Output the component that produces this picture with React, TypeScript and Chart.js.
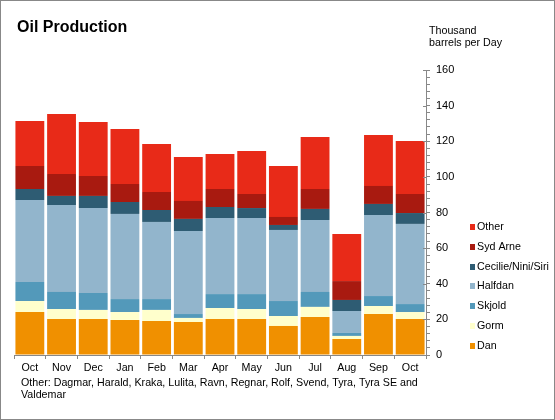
import React, { useEffect, useRef } from "react";
import { Chart, registerables } from "chart.js";

Chart.register(...registerables);

const months = ["Oct", "Nov", "Dec", "Jan", "Feb", "Mar", "Apr", "May", "Jun", "Jul", "Aug", "Sep", "Oct"];

const dan = [24.1, 20.2, 20.2, 19.7, 19.1, 18.5, 20.2, 20.2, 16.3, 21.3, 9.0, 23.0, 20.2];
const gorm = [6.2, 5.6, 5.1, 4.4, 6.2, 2.3, 6.2, 5.6, 5.6, 5.7, 1.7, 4.5, 3.9];
const skjold = [10.7, 9.6, 9.5, 7.3, 6.1, 2.2, 7.8, 8.4, 8.4, 8.4, 1.7, 5.6, 4.5];
const halfdan = [46.0, 48.8, 47.7, 47.8, 43.3, 46.6, 42.7, 42.7, 39.9, 40.4, 12.3, 45.5, 45.0];
const cecilie = [6.2, 5.1, 6.8, 6.7, 6.7, 6.8, 6.2, 5.6, 2.8, 6.2, 6.2, 6.2, 6.1];
const sydArne = [12.9, 12.3, 11.2, 10.1, 10.1, 10.1, 10.1, 7.9, 4.5, 11.2, 10.6, 10.1, 10.7];
const other = [25.3, 33.7, 30.3, 30.9, 27.0, 24.7, 19.7, 24.1, 28.6, 29.2, 26.4, 28.6, 29.8];

const seriesNames = ["Dan", "Gorm", "Skjold", "Halfdan", "Cecilie/Nini/Siri", "Syd Arne", "Other"];
const seriesValues = [dan, gorm, skjold, halfdan, cecilie, sydArne, other];
const seriesColors = ["#F09000", "#FFFFCC", "#5399BA", "#92B5CC", "#2E5C73", "#A81A10", "#E82A18"];

const yTicksMajor = [0, 20, 40, 60, 80, 100, 120, 140, 160];

const titleText = "Oil Production";
const unitLines = ["Thousand", "barrels per Day"];
const footLines = [
  "Other: Dagmar, Harald, Kraka, Lulita, Ravn, Regnar, Rolf, Svend, Tyra, Tyra SE and",
  "Valdemar",
];

const FONT = '"Liberation Sans", Arial, sans-serif';
const GRAY = "#888888";
const FS = 10.7;

const decorPlugin = {
  id: "decor",
  afterDraw(chart: any) {
    const ctx = chart.ctx;
    const y = chart.scales.y;
    const area = chart.chartArea;
    ctx.save();
    // major inner tick marks
    ctx.strokeStyle = GRAY;
    ctx.lineWidth = 1;
    ctx.beginPath();
    yTicksMajor.forEach((v) => {
      const py = Math.round(y.getPixelForValue(v)) + 0.5;
      ctx.moveTo(area.right - 3, py);
      ctx.lineTo(area.right, py);
    });
    ctx.stroke();

    // title
    ctx.fillStyle = "#000";
    ctx.textBaseline = "middle";
    ctx.textAlign = "left";
    ctx.font = `bold 16px ${FONT}`;
    ctx.fillText(titleText, 17, 28);

    // unit
    ctx.font = `${FS}px ${FONT}`;
    unitLines.forEach((t, i) => ctx.fillText(t, 429, 31 + i * 12));

    // footnote
    footLines.forEach((t, i) => ctx.fillText(t, 21, 383 + i * 12));

    // legend (reversed)
    const n = chart.data.datasets.length;
    for (let i = 0; i < n; i++) {
      const ds = chart.data.datasets[n - 1 - i];
      const cy = 227 + i * 19.8;
      ctx.fillStyle = ds.backgroundColor;
      ctx.fillRect(470, Math.round(cy) - 3, 5, 6);
      ctx.fillStyle = "#000";
      ctx.fillText(ds.label, 477, cy);
    }

    // outer border
    ctx.strokeStyle = GRAY;
    ctx.strokeRect(0.5, 0.5, 554, 419);
    ctx.restore();
  },
};

export default function App() {
  const ref = useRef<HTMLCanvasElement | null>(null);
  useEffect(() => {
    if (!ref.current) return;
    const chart = new Chart(ref.current, {
      type: "bar",
      data: {
        labels: months,
        datasets: seriesNames.map((name, i) => ({
          label: name,
          data: seriesValues[i],
          backgroundColor: seriesColors[i],
          borderWidth: 0,
          barPercentage: 0.91,
          categoryPercentage: 1,
        })),
      },
      options: {
        responsive: false,
        animation: false,
        devicePixelRatio: 1,
        layout: { padding: { left: 14, top: 70, right: 0, bottom: 0 } },
        plugins: { legend: { display: false }, tooltip: { enabled: false }, title: { display: false } },
        scales: {
          x: {
            stacked: true,
            offset: true,
            grid: {
              offset: true,
              drawOnChartArea: false,
              drawTicks: true,
              tickLength: 4,
              tickColor: GRAY,
              color: GRAY,
            },
            border: { display: true, color: GRAY },
            ticks: {
              color: "#000",
              font: { family: FONT, size: FS },
              padding: 3,
              autoSkip: false,
              maxRotation: 0,
            },
            afterFit: (s: any) => {
              s.height = 65;
            },
          },
          y: {
            stacked: true,
            position: "right",
            min: 0,
            max: 160,
            grid: {
              drawOnChartArea: false,
              drawTicks: true,
              tickLength: 4,
              tickColor: GRAY,
              color: GRAY,
            },
            border: { display: true, color: GRAY },
            ticks: {
              stepSize: 4,
              autoSkip: false,
              color: "#000",
              font: { family: FONT, size: 11 },
              padding: 6,
              callback: (v: any) => (Number(v) % 20 === 0 ? String(v) : ""),
            },
            afterFit: (s: any) => {
              s.width = 129;
            },
          },
        },
      },
      plugins: [decorPlugin],
    });
    return () => chart.destroy();
  }, []);
  return (
    <div style={{ position: "absolute", left: 0, top: 0, width: 555, height: 420, background: "#fff" }}>
      <canvas ref={ref} width={555} height={420} />
    </div>
  );
}
